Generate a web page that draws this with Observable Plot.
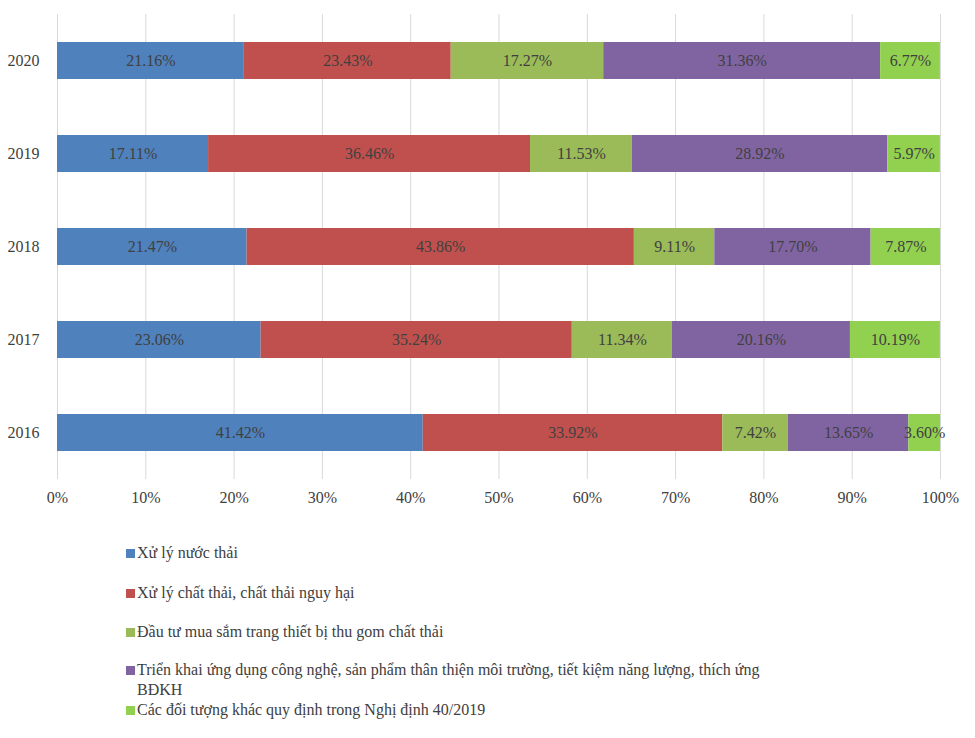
<!DOCTYPE html>
<html>
<head>
<meta charset="utf-8">
<script src="https://cdn.jsdelivr.net/npm/d3@7"></script>
<script src="https://cdn.jsdelivr.net/npm/@observablehq/plot@0.6"></script>
<style>
  body { margin: 0; background: #fff; font-family: 'Liberation Serif', 'Times New Roman', Tinos, 'DejaVu Serif', serif; }
  #wrap { position: relative; width: 975px; height: 738px; }
  #wrap svg, #wrap svg text { font-family: 'Liberation Serif', 'Times New Roman', Tinos, 'DejaVu Serif', serif !important; }
  .item { position: absolute; left: 126px; width: 770px; display: flex; align-items: flex-start; font-size: 16px; line-height: 20px; color: #404040; }
  .sw { width: 9px; height: 9px; margin-top: 6px; margin-right: 2px; flex: none; }
</style>
</head>
<body>
<div id="wrap"></div>
<script>
const years = ["2020", "2019", "2018", "2017", "2016"];
const categories = [
  "Xử lý nước thải",
  "Xử lý chất thải, chất thải nguy hại",
  "Đầu tư mua sắm trang thiết bị thu gom chất thải",
  "Triển khai ứng dụng công nghệ, sản phẩm thân thiện môi trường, tiết kiệm năng lượng, thích ứng BĐKH",
  "Các đối tượng khác quy định trong Nghị định 40/2019"
];
const colors = ["#4F81BD", "#C0504D", "#9BBB59", "#8064A2", "#92D050"];
// values per category, in year order 2020..2016
const nuocThai   = [21.16, 17.11, 21.47, 23.06, 41.42];
const chatThai   = [23.43, 36.46, 43.86, 35.24, 33.92];
const thuGom     = [17.27, 11.53, 9.11, 11.34, 7.42];
const congNghe   = [31.36, 28.92, 17.70, 20.16, 13.65];
const khac       = [6.77, 5.97, 7.87, 10.19, 3.60];
const series = [nuocThai, chatThai, thuGom, congNghe, khac];
const xTicks = [0, 10, 20, 30, 40, 50, 60, 70, 80, 90, 100];

const data = [];
years.forEach((y, i) => {
  categories.forEach((c, j) => data.push({year: y, cat: c, value: series[j][i]}));
});

const serif = "'Liberation Serif', 'Times New Roman', Tinos, 'DejaVu Serif', serif";
const chart = Plot.plot({
  width: 975,
  height: 519,
  marginLeft: 57,
  marginRight: 35,
  marginTop: 14,
  marginBottom: 40,
  style: {fontFamily: serif, fontSize: "16px", color: "#404040", background: "#fff"},
  x: {domain: [0, 100], ticks: xTicks, tickFormat: d => d + "%", tickSize: 0, tickPadding: 12, label: null},
  y: {domain: years, paddingInner: 0.6, paddingOuter: 0.3, tickSize: 0, tickPadding: 18, label: null},
  color: {domain: categories, range: colors},
  marks: [
    Plot.ruleX(xTicks, {stroke: "#d9d9d9", strokeWidth: 1}),
    Plot.barX(data, Plot.stackX({x: "value", y: "year", fill: "cat", order: null})),
    Plot.text(data, Plot.stackX({x: "value", y: "year", text: d => d.value.toFixed(2) + "%", order: null, fill: "#404040", fontSize: 16}))
  ]
});
const wrap = document.getElementById("wrap");
wrap.appendChild(chart);

const tops = [543, 583, 622, 660, 700];
categories.forEach((c, j) => {
  const it = document.createElement("div");
  it.className = "item";
  it.style.top = tops[j] + "px";
  if (j === 3) it.style.width = "660px";
  const sw = document.createElement("span");
  sw.className = "sw";
  sw.style.background = colors[j];
  const t = document.createElement("span");
  t.textContent = c;
  it.appendChild(sw); it.appendChild(t);
  wrap.appendChild(it);
});
</script>
</body>
</html>
